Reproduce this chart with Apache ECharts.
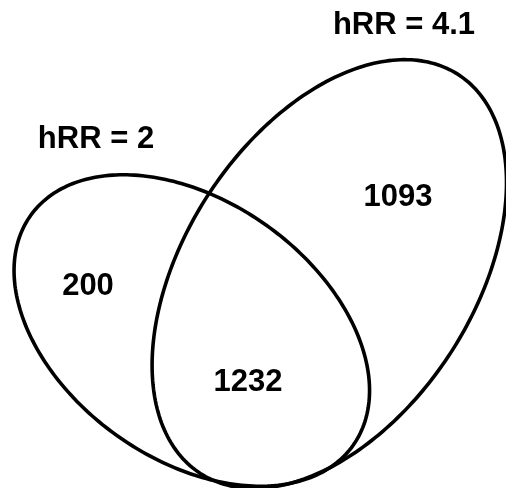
<!DOCTYPE html>
<html><head><meta charset="utf-8">
<script src="https://cdn.jsdelivr.net/npm/echarts@6/dist/echarts.min.js"></script>
<style>html,body{margin:0;padding:0;background:#fff}#c{width:506px;height:488px}</style>
</head><body><div id="c"></div>
<script>
// ---- data ----
const setNames = ['hRR = 2', 'hRR = 4.1'];
const regionNames = ['hRR = 2 only', 'hRR = 2 & hRR = 4.1', 'hRR = 4.1 only'];
const regionCounts = [200, 1232, 1093];

// ---- layout (units of the hidden axes) ----
// ellipse: centre x, centre y, semi-major, semi-minor, rotation (deg)
const ellipseShapes = [
  [191.8, 330.5, 198.0, 129.0, 35.5],
  [329.3, 274.0, 237.5, 144.7, -57.1]
];
const setLabelPos = [[96, 139], [404, 25]];
const regionLabelPos = [[88, 286], [248, 382], [398, 197]];

const chart = echarts.init(document.getElementById('c'), null, {renderer: 'canvas'});
const FONT = {fontFamily: 'Liberation Sans, Arial, sans-serif', fontWeight: 'bold', fontSize: 31};

function textItem(params, api) {
  const p = api.coord([api.value(0), api.value(1)]);
  return {type: 'text', x: p[0], y: p[1],
    style: Object.assign({text: api.value(2), fill: '#000', align: 'center', verticalAlign: 'middle'}, FONT)};
}

chart.setOption({
  animation: false,
  backgroundColor: '#fff',
  grid: {left: 0, right: 0, top: 0, bottom: 0},
  xAxis: {type: 'value', min: 0, max: 506, show: false},
  yAxis: {type: 'value', min: 0, max: 488, inverse: true, show: false},
  series: [
    {
      type: 'custom',
      coordinateSystem: 'cartesian2d',
      data: setNames.map((n, i) => ({name: n, value: ellipseShapes[i]})),
      renderItem: function (params, api) {
        const cx = api.value(0), cy = api.value(1), a = api.value(2), b = api.value(3);
        const th = api.value(4) * Math.PI / 180;
        const pts = [];
        const N = 280;
        for (let i = 0; i < N; i++) {
          const t = i / N * 2 * Math.PI;
          const x = cx + a * Math.cos(t) * Math.cos(th) - b * Math.sin(t) * Math.sin(th);
          const y = cy + a * Math.cos(t) * Math.sin(th) + b * Math.sin(t) * Math.cos(th);
          pts.push(api.coord([x, y]));
        }
        return {type: 'polygon', shape: {points: pts},
          style: {fill: 'none', stroke: '#000', lineWidth: 3.6}};
      },
      silent: true
    },
    {
      type: 'custom',
      coordinateSystem: 'cartesian2d',
      dimensions: ['x', 'y', {name: 'label', type: 'ordinal'}],
      data: setNames.map((n, i) => [setLabelPos[i][0], setLabelPos[i][1], n]),
      renderItem: textItem,
      silent: true
    },
    {
      type: 'custom',
      coordinateSystem: 'cartesian2d',
      dimensions: ['x', 'y', {name: 'label', type: 'ordinal'}],
      data: regionCounts.map((v, i) => [regionLabelPos[i][0], regionLabelPos[i][1], String(v)]),
      renderItem: textItem,
      silent: true
    }
  ]
});
</script></body></html>
